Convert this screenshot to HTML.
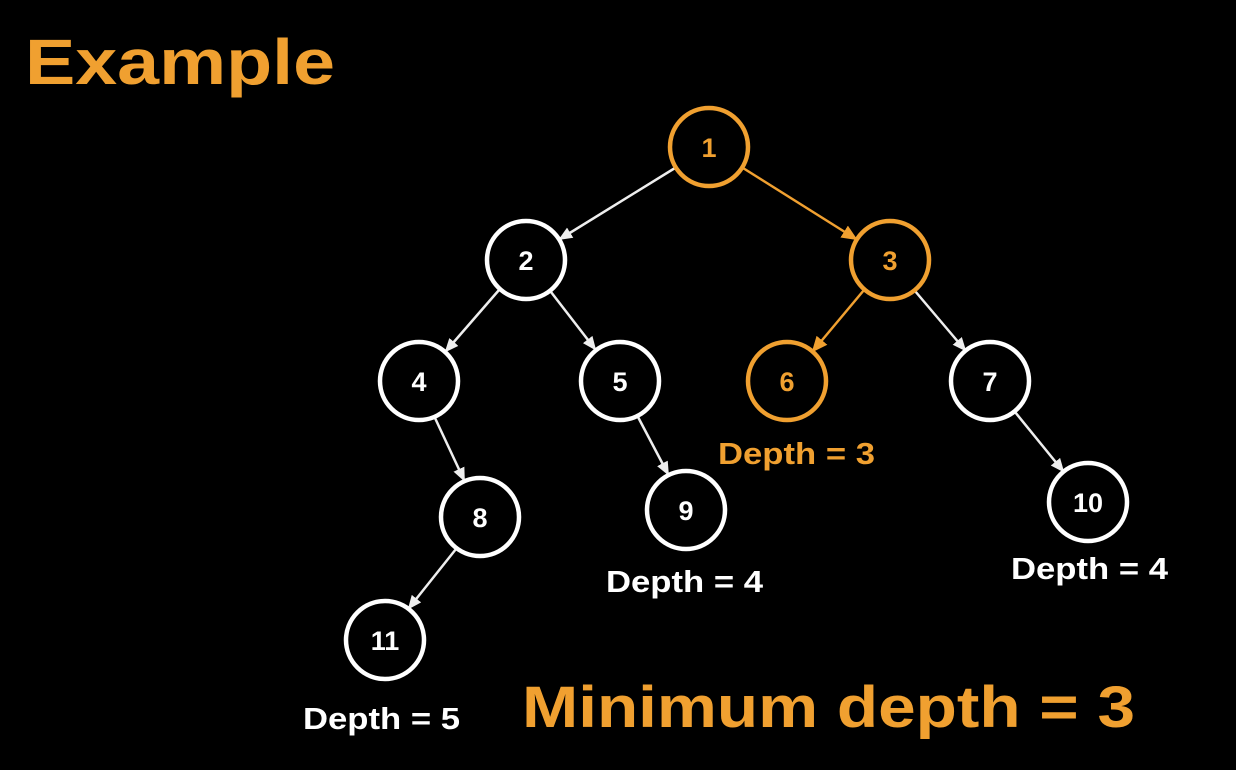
<!DOCTYPE html>
<html><head><meta charset="utf-8"><style>
html,body{margin:0;padding:0;background:#000;}
svg{display:block}
text{font-family:"Liberation Sans",sans-serif;font-weight:bold;}
</style></head><body>
<svg width="1236" height="770" viewBox="0 0 1236 770" xmlns="http://www.w3.org/2000/svg">
<defs>
<marker id="aw" markerWidth="14" markerHeight="14" refX="12" refY="7" orient="auto" markerUnits="userSpaceOnUse"><path d="M0,1 L14,7 L0,13 z" fill="#eee"/></marker>
<marker id="ao" markerWidth="16" markerHeight="16" refX="14" refY="8" orient="auto" markerUnits="userSpaceOnUse"><path d="M0,1 L16,8 L0,15 z" fill="#f0a030"/></marker>
</defs>
<rect width="1236" height="770" fill="#000"/>
<text x="25" y="84" font-size="64" fill="#f0a030" textLength="310" lengthAdjust="spacingAndGlyphs">Example</text>
<g stroke-width="2.5" fill="none">
<line x1="675" y1="168" x2="560" y2="239" stroke="#eee" marker-end="url(#aw)"/>
<line x1="743" y1="168" x2="856" y2="239" stroke="#f0a030" marker-end="url(#ao)"/>
<line x1="499" y1="290" x2="446" y2="351" stroke="#eee" marker-end="url(#aw)"/>
<line x1="551" y1="292" x2="595" y2="349" stroke="#eee" marker-end="url(#aw)"/>
<line x1="864" y1="290" x2="813" y2="351" stroke="#f0a030" marker-end="url(#ao)"/>
<line x1="915" y1="291" x2="965" y2="350" stroke="#eee" marker-end="url(#aw)"/>
<line x1="435" y1="418" x2="464" y2="480" stroke="#eee" marker-end="url(#aw)"/>
<line x1="638" y1="417" x2="668" y2="474" stroke="#eee" marker-end="url(#aw)"/>
<line x1="1015" y1="412" x2="1063" y2="471" stroke="#eee" marker-end="url(#aw)"/>
<line x1="456" y1="549" x2="409" y2="608" stroke="#eee" marker-end="url(#aw)"/>
</g>
<g stroke-width="4.5" fill="#000">
<circle cx="709" cy="147" r="39" stroke="#f0a030"/>
<circle cx="526" cy="260" r="39" stroke="#fff"/>
<circle cx="890" cy="260" r="39" stroke="#f0a030"/>
<circle cx="419" cy="381" r="39" stroke="#fff"/>
<circle cx="620" cy="381" r="39" stroke="#fff"/>
<circle cx="787" cy="381" r="39" stroke="#f0a030"/>
<circle cx="990" cy="381" r="39" stroke="#fff"/>
<circle cx="480" cy="517" r="39" stroke="#fff"/>
<circle cx="686" cy="510" r="39" stroke="#fff"/>
<circle cx="1088" cy="502" r="39" stroke="#fff"/>
<circle cx="385" cy="640" r="39" stroke="#fff"/>
</g>
<g font-size="27" text-anchor="middle">
<text x="709" y="157" fill="#f0a030">1</text>
<text x="526" y="270" fill="#fff">2</text>
<text x="890" y="270" fill="#f0a030">3</text>
<text x="419" y="391" fill="#fff">4</text>
<text x="620" y="391" fill="#fff">5</text>
<text x="787" y="391" fill="#f0a030">6</text>
<text x="990" y="391" fill="#fff">7</text>
<text x="480" y="527" fill="#fff">8</text>
<text x="686" y="520" fill="#fff">9</text>
<text x="1088" y="512" fill="#fff">10</text>
<text x="385" y="650" fill="#fff">11</text>
</g>
<g font-size="31">
<text x="718" y="464" fill="#f0a030" textLength="157" lengthAdjust="spacingAndGlyphs">Depth = 3</text>
<text x="606" y="592" fill="#fff" textLength="157" lengthAdjust="spacingAndGlyphs">Depth = 4</text>
<text x="1011" y="579" fill="#fff" textLength="157" lengthAdjust="spacingAndGlyphs">Depth = 4</text>
<text x="303" y="729" fill="#fff" textLength="157" lengthAdjust="spacingAndGlyphs">Depth = 5</text>
</g>
<text x="522" y="727" font-size="58" fill="#f0a030" textLength="613" lengthAdjust="spacingAndGlyphs">Minimum depth = 3</text>
</svg>
</body></html>
